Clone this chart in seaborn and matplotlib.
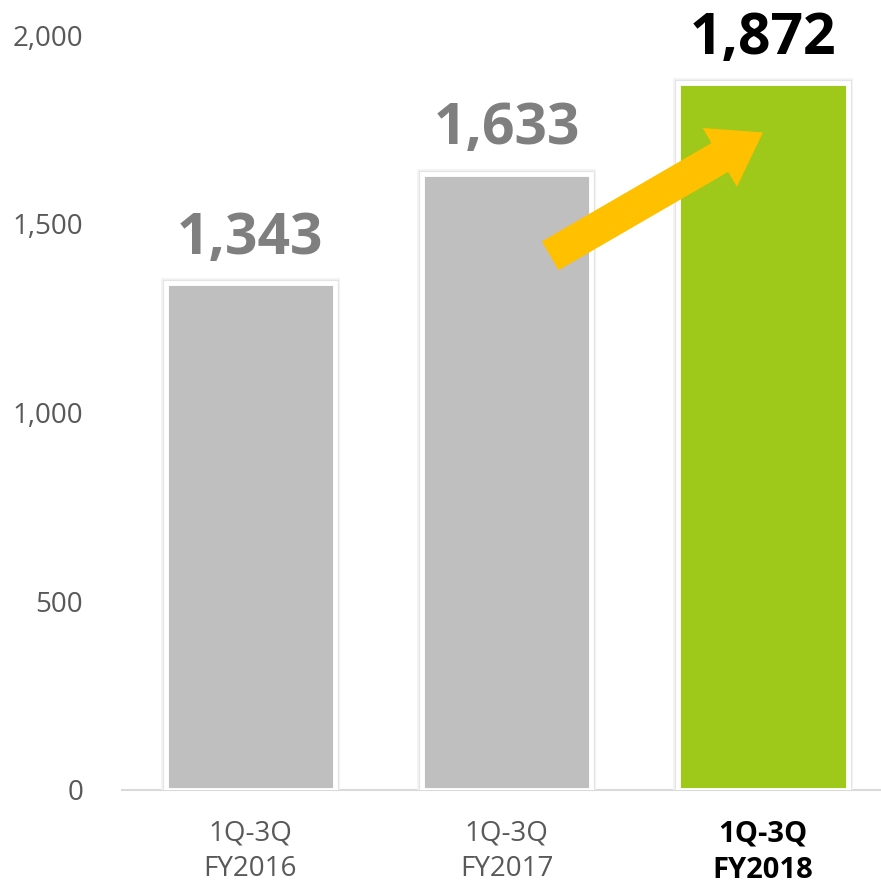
import matplotlib
matplotlib.use("Agg")
import matplotlib.pyplot as plt
import matplotlib.patheffects as pe
import seaborn as sns
import pandas as pd

categories = ["1Q-3Q\nFY2016", "1Q-3Q\nFY2017", "1Q-3Q\nFY2018"]
values = [1343, 1633, 1872]
value_labels = ["1,343", "1,633", "1,872"]
bar_colors = ["#BFBFBF", "#BFBFBF", "#9EC81A"]
y_ticks = [0, 500, 1000, 1500, 2000]
y_tick_labels = ["0", "500", "1,000", "1,500", "2,000"]

sns.set_theme(style="white")
plt.rcParams["font.family"] = ["Open Sans", "DejaVu Sans"]

df = pd.DataFrame({"period": categories, "value": values})

fig = plt.figure(figsize=(8.81, 8.86), dpi=100)
ax = fig.add_axes([122 / 881, 96 / 886, 759 / 881, 755 / 886])

sns.barplot(data=df, x="period", y="value", hue="period",
            palette=bar_colors, legend=False, width=0.66, saturation=1,
            edgecolor="white", linewidth=3.5, ax=ax)

# white frame with a faint grey halo around each bar
for patch in ax.patches:
    patch.set_path_effects([
        pe.Stroke(linewidth=7, foreground="#F3F3F3"),
        pe.Stroke(linewidth=5.2, foreground="#E4E4E4"),
        pe.Normal(),
    ])

ax.set_xlim(-0.5, 2.46)
ax.set_ylim(0, 2000)
ax.set_yticks(y_ticks)
ax.set_yticklabels(y_tick_labels)
ax.set_xlabel("")
ax.set_ylabel("")

for s in ["top", "right", "left"]:
    ax.spines[s].set_visible(False)
ax.spines["bottom"].set_color("#D9D9D9")
ax.spines["bottom"].set_linewidth(1.5)
ax.spines["bottom"].set_zorder(0.5)

ax.tick_params(axis="y", length=0, pad=28, labelsize=20, labelcolor="#595959")
ax.tick_params(axis="x", length=0, pad=21, labelsize=20, labelcolor="#595959")
for lbl in ax.get_xticklabels():
    lbl.set_linespacing(1.36)
last = ax.get_xticklabels()[-1]
last.set_fontweight("bold")
last.set_fontsize(21)
last.set_color("black")

# value labels above each bar
for i, (v, txt) in enumerate(zip(values, value_labels)):
    last_bar = i == len(values) - 1
    ax.annotate(txt, xy=(i, v), xytext=(0, 21), textcoords="offset points",
                ha="center", va="baseline", fontsize=41, fontweight="bold",
                color="black" if last_bar else "#7F7F7F", annotation_clip=False)

# growth arrow from the FY2017 bar towards the FY2018 bar
ax.annotate("", xy=(2.0, values[2] - 130), xytext=(1.17, values[1] - 218),
            arrowprops=dict(arrowstyle="simple,head_length=3.6,head_width=4.9,tail_width=2.4",
                            mutation_scale=10, color="#FFC000", shrinkA=0, shrinkB=0,
                            linewidth=0))

fig.savefig("out.png", dpi=100)
